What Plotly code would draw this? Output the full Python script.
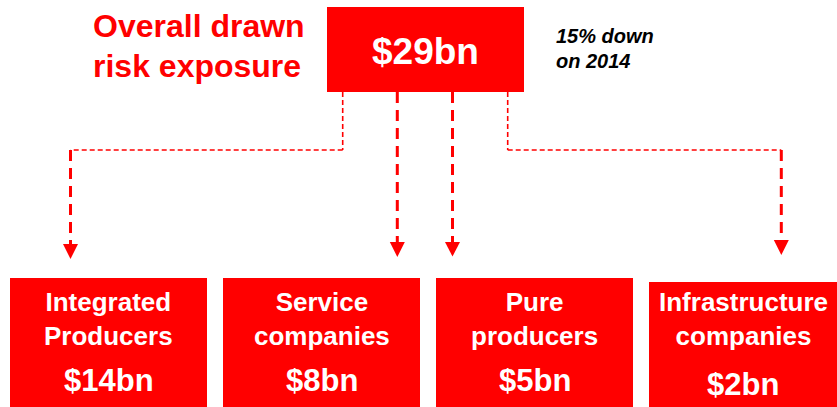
import plotly.graph_objects as go

# ---- data ----
title_lines = ["Overall drawn", "risk exposure"]
total_value = 29
change_lines = ["15% down", "on 2014"]
categories = ["Integrated<br>Producers", "Service<br>companies", "Pure<br>producers", "Infrastructure<br>companies"]
values = [14, 8, 5, 2]

# ---- layout constants ----
W, H = 837, 407
RED = "#FF0000"
FONT = "Arial, Liberation Sans, sans-serif"

top_box = dict(x0=327, x1=524, y0=7, y1=92)
box_x = [(10, 207), (223, 420), (436, 633), (649, 837)]
box_top = [278, 278, 278, 282]
label_y = [318.5, 318.5, 318.5, 318.5]
value_y = [380.5, 380.5, 380.5, 384]
arrow_x = [70.5, 397.3, 452.5, 781.3]
arrow_top = [244, 242, 242, 240]
arrow_tip = [259, 257, 256.5, 255]

shapes = []
# top box
shapes.append(dict(type="rect", xref="x", yref="y", line_width=0, fillcolor=RED, **top_box))
# bottom boxes
for (x0, x1), yt in zip(box_x, box_top):
    shapes.append(dict(type="rect", xref="x", yref="y", x0=x0, x1=x1 + (5 if x1 >= W else 0),
                       y0=yt, y1=H + 5, line_width=0, fillcolor=RED))

thin = dict(color=RED, width=1.6, dash="5px,3px")
thick = dict(color=RED, width=3, dash="11px,7px")


def seg(x0, y0, x1, y1, style):
    shapes.append(dict(type="line", xref="x", yref="y", x0=x0, y0=y0, x1=x1, y1=y1, line=style))


# connector 1 (left elbow)
seg(342.7, 92, 342.7, 150, thin)
seg(342.7, 150, arrow_x[0], 150, thin)
seg(arrow_x[0], 150, arrow_x[0], arrow_top[0], thick)
# connectors 2 & 3 (straight)
seg(arrow_x[1], 92, arrow_x[1], arrow_top[1], thick)
seg(arrow_x[2], 92, arrow_x[2], arrow_top[2], thick)
# connector 4 (right elbow)
seg(507.7, 92, 507.7, 150, thin)
seg(507.7, 150, arrow_x[3], 150, thin)
seg(arrow_x[3], 150, arrow_x[3], arrow_top[3], thick)

# arrowheads
for ax, at, tip in zip(arrow_x, arrow_top, arrow_tip):
    shapes.append(dict(type="path", xref="x", yref="y",
                       path=f"M {ax-7.5},{at} L {ax+7.5},{at} L {ax},{tip} Z",
                       fillcolor=RED, line_width=0))

annotations = []
# title (two lines)
for txt, yy in zip(title_lines, [26, 65.5]):
    annotations.append(dict(x=91, y=yy, xref="x", yref="y", xanchor="left", yanchor="middle",
                            text=f"<b>{txt}</b>", align="left", showarrow=False,
                            font=dict(family=FONT, size=32, color=RED)))
# total
annotations.append(dict(x=(top_box["x0"] + top_box["x1"]) / 2, y=51, xref="x", yref="y",
                        xanchor="center", yanchor="middle", text=f"<b>${total_value}bn</b>",
                        showarrow=False, font=dict(family=FONT, size=37, color="white")))
# note (two lines)
for txt, yy in zip(change_lines, [36, 61]):
    annotations.append(dict(x=554, y=yy, xref="x", yref="y", xanchor="left", yanchor="middle",
                            text=f"<b><i>{txt}</i></b>", align="left", showarrow=False,
                            font=dict(family=FONT, size=20, color="black")))
# bottom labels
for (x0, x1), ly, vy, cat, v in zip(box_x, label_y, value_y, categories, values):
    cx = (x0 + x1) / 2
    annotations.append(dict(x=cx, y=ly, xref="x", yref="y", xanchor="center",
                            yanchor="middle", text=f"<b>{cat}</b>", align="center",
                            showarrow=False, font=dict(family=FONT, size=26, color="white")))
    annotations.append(dict(x=cx, y=vy, xref="x", yref="y", xanchor="center",
                            yanchor="middle", text=f"<b>${v}bn</b>",
                            showarrow=False, font=dict(family=FONT, size=31, color="white")))

fig = go.Figure()
fig.update_layout(
    width=W, height=H,
    margin=dict(l=0, r=0, t=0, b=0),
    paper_bgcolor="white", plot_bgcolor="white",
    xaxis=dict(range=[0, W], visible=False, fixedrange=True),
    yaxis=dict(range=[H, 0], visible=False, fixedrange=True),
    shapes=shapes, annotations=annotations, showlegend=False,
)
fig.write_html("out.html", config={"displayModeBar": False},
               post_script="document.body.style.margin='0px';document.body.style.overflow='hidden';")
